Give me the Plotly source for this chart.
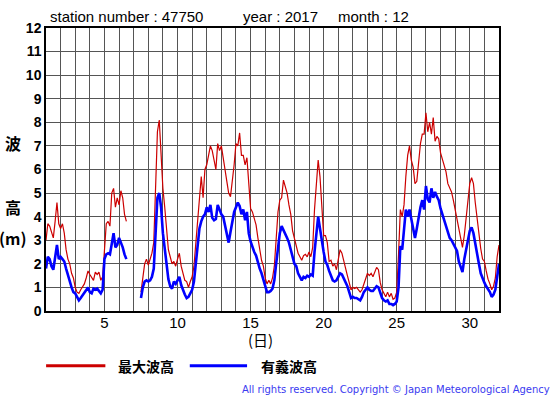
import numpy as np
import plotly.graph_objects as go

# ---------------- data (3-hourly) ----------------
start_day = 1.0
step_day = 0.125
N = None

max_wave = [
    3.0, 3.7, 3.6, 3.3, 3.1, 3.8, 4.6, 3.7, 3.5, 3.7, 3.3, 2.6, 2.2, 2.0, 1.6, 1.4,
    1.0, 0.8, 0.75, 0.9, 1.0, 1.15, 1.4, 1.7, 1.55, 1.4, 1.3, 1.65, 1.55, 1.65, 1.3, 1.45,
    2.8, 3.7, 3.8, 3.6, 5.0, 5.2, 4.4, 4.8, 4.5, 5.1, 4.8, 4.1, 3.8, N, N, N,
    N, N, N, N, 0.8, 1.4, 2.0, 2.2, 1.95, 2.2, 2.45, 2.9, 5.5, 7.6, 8.1, 6.6,
    5.2, 4.4, 3.4, 2.6, 2.3, 2.0, 2.1, 1.9, 2.2, 2.45, 1.9, 1.6, 1.3, 1.25, 1.0, 1.25,
    1.45, 1.9, 2.9, 4.0, 4.6, 5.7, 4.8, 6.0, 6.2, 6.6, 7.0, 6.8, 6.3, 6.0, 7.1, 6.8,
    7.0, 6.4, 6.0, 5.5, 5.0, 4.85, 5.5, 6.2, 7.1, 7.0, 7.55, 6.6, 6.6, 6.2, 6.5, 5.2,
    4.35, 4.2, 3.9, 3.65, 3.1, 2.6, 2.15, 1.9, 1.4, 1.15, 1.3, 1.15, 1.4, 1.9, 3.0, 4.2,
    4.7, 4.8, 5.55, 5.3, 5.0, 4.5, 4.1, 3.4, 3.1, 2.8, 2.45, 2.3, 2.15, 2.35, 2.4, 2.3,
    2.5, 2.3, 2.7, 4.3, 5.4, 6.4, 5.7, 4.5, 3.2, 3.2, 2.9, 2.1, 2.15, 1.9, 2.0, 1.75,
    2.2, 2.6, 2.45, 2.1, 1.8, 1.5, 1.2, 0.9, 1.0, 0.95, 1.0, 0.9, 0.8, 0.9, 1.15, 1.3,
    1.6, 1.5, 1.6, 1.45, 1.65, 1.85, 1.75, 1.2, 0.9, 0.75, 0.6, 0.8, 0.6, 0.75, 0.5, 0.55,
    0.8, 2.4, 4.3, 4.0, 4.5, 5.7, 6.6, 7.0, 6.4, 6.1, 5.4, 5.5, 6.4, 7.1, 7.5, 7.5,
    8.4, 7.6, 8.0, 7.5, 8.2, 7.2, 7.4, 7.3, 6.7, 6.4, 6.1, 5.9, 5.4, 5.2, 5.05, 4.7,
    4.3, 3.95, 3.4, 3.0, 2.7, 3.2, 3.9, 4.6, 5.4, 5.65, 5.4, 4.6, 3.9, 3.2, 2.65, 2.2,
    2.1, 1.7, 1.35, 1.15, 0.9, 1.05, 1.4, 2.3, 2.8,
]

sig_wave = [
    1.8, 2.3, 2.2, 1.9, 1.75, 2.3, 2.8, 2.2, 2.3, 2.2, 2.1, 1.8, 1.5, 1.25, 1.0, 0.8,
    0.75, 0.6, 0.45, 0.55, 0.65, 0.8, 0.9, 1.0, 0.8, 0.75, 0.95, 0.9, 0.95, 0.85, 0.75, 0.9,
    2.2, 2.4, 2.45, 2.4, 2.9, 3.3, 2.7, 2.8, 3.1, 2.9, 2.7, 2.4, 2.2, N, N, N,
    N, N, N, N, 0.55, 1.0, 1.25, 1.3, 1.25, 1.3, 1.45, 1.8, 3.3, 4.8, 5.0, 4.4,
    3.3, 2.6, 1.8, 1.35, 1.05, 0.95, 1.25, 1.15, 1.3, 1.45, 1.1, 0.85, 0.7, 0.55, 0.6, 0.75,
    0.9, 1.25, 2.0, 3.0, 3.5, 3.8, 4.0, 4.1, 4.4, 4.2, 4.5, 3.95, 3.85, 3.9, 4.5, 4.3,
    4.1, 4.0, 3.6, 3.3, 2.9, 3.35, 3.7, 4.2, 4.4, 4.6, 4.45, 4.1, 4.3, 3.85, 4.2, 3.3,
    2.95, 2.7, 2.5, 2.35, 2.05, 1.8, 1.6, 1.3, 1.1, 0.8, 0.8, 0.85, 0.95, 1.3, 2.0, 2.6,
    3.3, 3.6, 3.45, 3.3, 3.1, 2.9, 2.6, 2.2, 2.0, 1.9, 1.6, 1.45, 1.3, 1.45, 1.4, 1.5,
    1.45, 1.55, 1.5, 2.5, 3.3, 4.0, 3.5, 2.9, 2.5, 2.1, 1.95, 1.7, 1.5, 1.3, 1.25, 1.3,
    1.45, 1.6, 1.55, 1.4, 1.2, 1.05, 0.8, 0.55, 0.6, 0.55, 0.55, 0.5, 0.45, 0.6, 0.8, 0.9,
    1.0, 0.9, 0.85, 0.85, 0.95, 1.05, 1.0, 0.75, 0.55, 0.45, 0.4, 0.45, 0.3, 0.3, 0.25, 0.3,
    0.4, 1.0, 2.75, 2.6, 3.4, 4.3, 4.0, 4.3, 3.9, 3.5, 3.1, 3.5, 4.0, 4.4, 4.7, 4.3,
    5.3, 4.75, 4.6, 5.2, 4.8, 5.05, 4.85, 4.7, 4.35, 4.1, 3.8, 3.55, 3.35, 3.1, 3.0, 2.85,
    2.7, 2.55, 2.1, 1.85, 1.65, 2.2, 2.7, 3.0, 3.4, 3.55, 3.3, 2.8, 2.5, 2.0, 1.6, 1.35,
    1.2, 1.05, 0.92, 0.8, 0.6, 0.7, 0.9, 1.5, 2.0,
]

days = start_day + step_day * np.arange(len(max_wave))

x_ticks = list(range(1, 33))
x_labels = ["5", "10", "15", "20", "25", "30"]
y_ticks = list(range(0, 13))

title_station = "station number : 47750"
title_year = "year : 2017"
title_month = "month : 12"
legend_names = ["最大波高", "有義波高"]
colors = ["#cc0000", "#0000ff"]

# ---------------- figure ----------------
W, H = 555, 395
L, R, T, B = 45.5, 55.5, 27.5, 83.5
pw, ph = W - L - R, H - T - B


def px(xp):
    return (xp - L) / pw


def py(yp):
    return (H - B - yp) / ph


fig = go.Figure()
fig.add_trace(go.Scatter(x=days, y=max_wave, mode="lines", name=legend_names[0],
                         line=dict(color=colors[0], width=1.2), connectgaps=False))
fig.add_trace(go.Scatter(x=days, y=sig_wave, mode="lines", name=legend_names[1],
                         line=dict(color=colors[1], width=2.6), connectgaps=False))

tick_text = [str(d) if str(d) in x_labels else "" for d in x_ticks]

fig.update_layout(
    template="none",
    width=W, height=H,
    margin=dict(l=L, r=R, t=T, b=B, pad=0, autoexpand=False),
    paper_bgcolor="white", plot_bgcolor="white",
    showlegend=False,
    font=dict(family="Liberation Sans, Arial, sans-serif", color="black"),
    xaxis=dict(range=[1, 32], tickmode="array", tickvals=x_ticks, ticktext=tick_text,
               automargin=False, ticklabelstandoff=-3,
               showgrid=True, gridcolor="#555555", gridwidth=1,
               showline=True, linecolor="black", linewidth=1.5, mirror=True,
               ticks="", zeroline=False,
               tickfont=dict(size=15, family="Liberation Sans, Arial, sans-serif")),
    yaxis=dict(range=[0, 12], tickmode="array", tickvals=y_ticks,
               automargin=False,
               showgrid=True, gridcolor="#555555", gridwidth=1,
               showline=True, linecolor="black", linewidth=1.5, mirror=True,
               ticks="", zeroline=False,
               tickfont=dict(size=14, family="Liberation Sans, Arial, sans-serif", weight="bold")),
)

ann = []
ttl_font = dict(size=15, family="Liberation Sans, Arial, sans-serif", color="black")
for txt, xl in [(title_station, 47.7), (title_year, 240.7), (title_month, 335.7)]:
    ann.append(dict(text=txt, x=px(xl), y=py(16), xref="paper", yref="paper",
                    xanchor="left", yanchor="middle", showarrow=False, font=ttl_font))

ylab_font = dict(size=16, family="Noto Sans CJK JP", color="black", weight="bold")
for txt, yc in [("波", 143), ("高", 207), ("(m)", 238)]:
    ann.append(dict(text=txt, x=px(12.5), y=py(yc), xref="paper", yref="paper",
                    xanchor="center", yanchor="middle", showarrow=False, font=ylab_font))

ann.append(dict(text="(日)", x=px(260), y=py(340.5), xref="paper", yref="paper",
                xanchor="center", yanchor="middle", showarrow=False,
                font=dict(size=15, family="Noto Sans CJK JP", color="black")))

leg_font = dict(size=14, family="Noto Sans CJK JP", color="black", weight="bold")
shapes = []
for (x0, x1, tx), name, col in zip([(45.6, 105, 115.8), (189.6, 247, 259.4)], legend_names, colors):
    shapes.append(dict(type="line", xref="paper", yref="paper", x0=px(x0), x1=px(x1),
                       y0=py(366.5), y1=py(366.5), line=dict(color=col, width=3)))
    ann.append(dict(text=name, x=px(tx), y=py(366.5), xref="paper", yref="paper",
                    xanchor="left", yanchor="middle", showarrow=False, font=leg_font))

ann.append(dict(text="All rights reserved. Copyright © Japan Meteorological Agency",
                x=px(552.5), y=py(390.5), xref="paper", yref="paper",
                xanchor="right", yanchor="middle", showarrow=False,
                font=dict(size=10, family="DejaVu Sans", color="#3a3af0")))

fig.update_layout(annotations=ann, shapes=shapes)
fig.write_html("out.html", config={"displayModeBar": False},
               post_script="document.body.style.margin='0';document.body.style.padding='0';")
